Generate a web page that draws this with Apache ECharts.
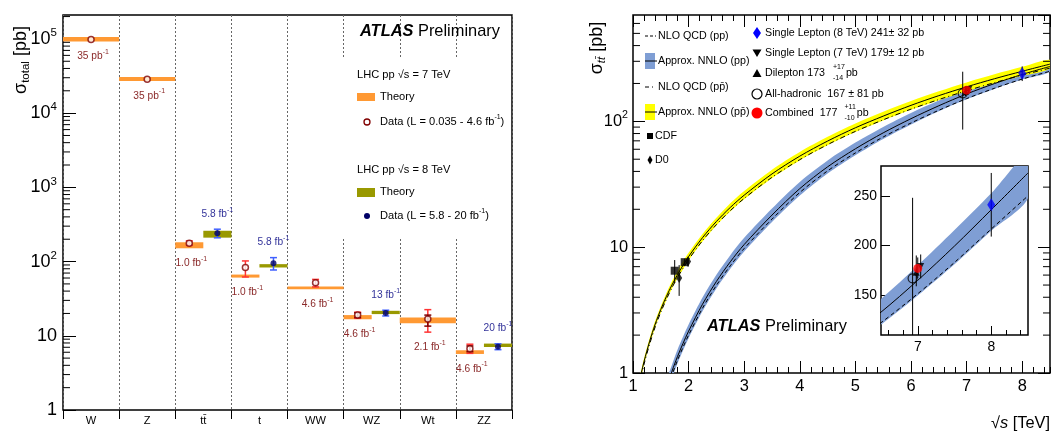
<!DOCTYPE html>
<html>
<head>
<meta charset="utf-8">
<title>ATLAS cross sections</title>
<script src="https://cdn.jsdelivr.net/npm/echarts@6.0.0/dist/echarts.min.js"></script>
<style>
html, body { margin: 0; padding: 0; background: #fff; }
#main { width: 1052px; height: 435px; }
</style>
</head>
<body>
<div id="main"></div>
<script>
// left panel: total cross sections [pb], 7 TeV and 8 TeV
var cats = ['W', 'Z', 'tt\u0304', 't', 'WW', 'WZ', 'Wt', 'ZZ'];
var th7Lo = [92000, 27100, 151, 60.8, 42.2, 16.7, 14.7, 5.69];
var th7Hi = [106000, 30700, 182, 66.8, 46.2, 19.0, 17.7, 6.38];
var th8Lo = [null, null, 210, 83.2, null, 19.6, null, 7.06];
var th8Hi = [null, null, 260, 92.3, null, 21.7, null, 7.85];
var meas7 = [98000, 28500, 177, 83, 51.9, 19.0, 16.8, 6.7];
var tot7Lo = [95000, 27700, 165, 62, 45.5, 17.2, 11.2, 5.8];
var tot7Hi = [101000, 29300, 190, 102, 57.5, 20.8, 22.5, 7.7];
var stat7Lo = [97500, 28300, 174, 79, 49.9, 17.6, 13.5, 6.1];
var stat7Hi = [98500, 28700, 180, 87, 53.9, 20.4, 19.0, 7.3];
var meas8 = [null, null, 241, 95, null, 20.3, null, 7.1];
var tot8Lo = [null, null, 209, 77, null, 18.5, null, 6.5];
var tot8Hi = [null, null, 273, 113, null, 22.1, null, 7.8];
var stat8Lo = [null, null, 238, 93, null, 19.6, null, 6.8];
var stat8Hi = [null, null, 244, 97, null, 21.0, null, 7.5];
var lumi7 = ['35 pb', '35 pb', '1.0 fb', '1.0 fb', '4.6 fb', '4.6 fb', '2.1 fb', '4.6 fb'];
var lumi8 = [null, null, '5.8 fb', '5.8 fb', null, '13 fb', null, '20 fb'];

// right panel: ttbar cross section vs sqrt(s) [TeV]
var ppE = [1.6, 1.7, 1.8, 1.9, 2.0, 2.25, 2.5, 2.75, 3, 3.5, 4, 4.5, 5, 5.5, 6, 6.5, 7, 7.5, 8, 8.5];
var ppNNLO = [0.76, 1.03, 1.35, 1.72, 2.15, 3.52, 5.34, 7.65, 10.5, 18.0, 29.2, 43.5, 60.5, 81, 105, 133, 165, 199.5, 236, 273];
var ppHi = [0.86, 1.16, 1.53, 1.94, 2.43, 3.98, 6.03, 8.64, 11.87, 20.3, 33.0, 48.9, 67.8, 90.3, 116.6, 146.3, 179.9, 215.5, 252.5, 292];
var ppLo = [0.67, 0.906, 1.19, 1.51, 1.89, 3.10, 4.70, 6.73, 9.24, 15.84, 25.7, 38.5, 53.8, 72.5, 94.5, 120.4, 149.7, 181.1, 214.8, 247.6];
var ppNLO = [0.71, 0.96, 1.26, 1.6, 2.0, 3.27, 4.97, 7.11, 9.77, 16.7, 27.2, 40.4, 56.1, 75.1, 97.0, 122.4, 151.5, 183, 216.6, 250];

var ppbarE = [1.1, 1.15, 1.2, 1.3, 1.4, 1.5, 1.6, 1.7, 1.8, 1.9, 2.0, 2.25, 2.5, 2.75, 3, 3.5, 4, 4.5, 5, 5.5, 6, 6.5, 7, 7.5, 8, 8.5];
var ppbarNNLO = [0.79, 1.0, 1.24, 1.79, 2.45, 3.2, 4.05, 5.0, 6.04, 7.18, 8.42, 11.9, 16.0, 20.7, 25.9, 38.2, 52.9, 69.7, 88.9, 110, 134, 160, 188, 218, 250, 285];
var ppbarHi = [0.837, 1.06, 1.314, 1.897, 2.597, 3.392, 4.31, 5.33, 6.43, 7.68, 9.01, 12.73, 17.1, 22.3, 27.97, 41.3, 57.1, 75.3, 96.2, 119.4, 145.4, 173.6, 204, 236.5, 271, 309];
var ppbarLo = [0.743, 0.94, 1.166, 1.683, 2.303, 3.008, 3.79, 4.68, 5.65, 6.68, 7.83, 11.07, 14.9, 19.2, 24.0, 35.3, 48.9, 64.5, 82.1, 101.4, 123.5, 147.2, 173, 200.6, 230, 262.2];
var ppbarNLO = [0.75, 0.95, 1.18, 1.70, 2.33, 3.04, 3.85, 4.75, 5.74, 6.8, 7.97, 11.26, 15.1, 19.5, 24.4, 35.9, 49.6, 65.3, 83.2, 102.8, 125, 149, 175, 203, 233, 265];

var cdfE = [1.75, 1.93], cdfXs = [6.5, 7.6], cdfLo = [5.2, 7.1], cdfHi = [7.9, 8.1];
var d0E = [1.83, 1.99], d0Xs = [5.7, 7.7], d0Lo = [4.1, 7.0], d0Hi = [7.2, 8.4];
// single lepton 8, single lepton 7, dilepton, all-hadronic, combined
var atlasE = [8.0, 7.04, 6.98, 6.93, 7.0];
var atlasXs = [241, 179, 173, 167, 177];
var atlasLo = [209, 167, 159, 86, 167];
var atlasHi = [273, 191, 190, 248, 188];

var logDecL = [1, 10, 100, 1000, 10000, 100000];
var logDecR = [1, 10, 100];
var mant = [2, 3, 4, 5, 6, 7, 8, 9];
var insetMajor = [7, 8];
var insetMinor = [6.6, 6.8, 7.2, 7.4, 7.6, 7.8, 8.2, 8.4];
var insetY = [150, 200, 250];

// fonts: narrow helvetica-like if there is one
function hasFont(name) {
  var c = document.createElement('canvas').getContext('2d');
  c.font = '40px monospace';
  var w0 = c.measureText('LHC pp Theory 0123').width;
  c.font = "40px '" + name + "', monospace";
  return c.measureText('LHC pp Theory 0123').width !== w0;
}
var NARROW = hasFont('Liberation Sans Narrow');
var FF = NARROW ? 'Liberation Sans Narrow' : 'Liberation Sans';
function F(px) { return NARROW ? px : Math.round(px * 8.2) / 10; }
var mctx = document.createElement('canvas').getContext('2d');
function tw(txt, px) { mctx.font = F(px) + "px '" + FF + "'"; return mctx.measureText(txt).width; }

var ORANGE = '#ff9933', OLIVE = '#999900';
var RED7 = '#ff3333', DARK7 = '#800000', LAB7 = '#8b2a2a';
var BLUE8 = '#4060ff', DARK8 = '#000066', LAB8 = '#33339a';
var BAND_PP = '#7f9ed4', BAND_PPBAR = '#ffff00';
var SMOOTH = 0.3;

function zip(a, b) { return a.map(function (v, i) { return [v, b[i]]; }); }
function R(px, extra) { return Object.assign({ fontSize: F(px), fontFamily: FF }, extra || {}); }
function clipOf(params) {
  var cs = params.coordSys;
  return { type: 'rect', shape: { x: cs.x, y: cs.y, width: cs.width, height: cs.height } };
}
function xs7(i) { return th8Lo[i] != null ? i + 0.25 : i + 0.5; }
function xs8(i) { return i + 0.75; }

var catItems = cats.map(function (c, i) { return [i, 1]; });

function theoryItem(params, api) {
  var i = api.value(0);
  var half = th8Lo[i] != null;
  var a = api.coord([i, th7Hi[i]]), b = api.coord([half ? i + 0.5 : i + 1, th7Lo[i]]);
  var kids = [{ type: 'rect', shape: { x: a[0], y: a[1], width: b[0] - a[0], height: b[1] - a[1] }, style: { fill: ORANGE } }];
  if (half) {
    var c = api.coord([i + 0.5, th8Hi[i]]), d = api.coord([i + 1, th8Lo[i]]);
    kids.push({ type: 'rect', shape: { x: c[0], y: c[1], width: d[0] - c[0], height: d[1] - c[1] }, style: { fill: OLIVE } });
  }
  return { type: 'group', children: kids };
}

function errRender(xf, lo, hi, slo, shi, cOut, cIn) {
  return function (params, api) {
    var i = api.value(0);
    if (lo[i] == null) return;
    var x = xf(i), kids = [];
    function bar(l, h, col) {
      var p = api.coord([x, h]), q = api.coord([x, l]);
      if (q[1] - p[1] < 4) return;
      var st = { stroke: col, lineWidth: 1.5 };
      kids.push({ type: 'line', shape: { x1: p[0], y1: p[1], x2: q[0], y2: q[1] }, style: st });
      kids.push({ type: 'line', shape: { x1: p[0] - 3.5, y1: p[1], x2: p[0] + 3.5, y2: p[1] }, style: st });
      kids.push({ type: 'line', shape: { x1: q[0] - 3.5, y1: q[1], x2: q[0] + 3.5, y2: q[1] }, style: st });
    }
    bar(lo[i], hi[i], cOut);
    bar(slo[i], shi[i], cIn);
    return { type: 'group', children: kids };
  };
}

function lumiRich(col) {
  return { n: R(12.5, { fill: col }), s: R(8.5, { fill: col, padding: [0, 0, 9, 0] }) };
}
function lumiItem(params, api) {
  var i = api.value(0), kids = [];
  var p = api.coord([xs7(i), Math.min(th7Lo[i], tot7Lo[i])]);
  kids.push({ type: 'text', x: p[0] + 2, y: p[1] + 15, style: { text: '{n|' + lumi7[i] + '}{s|-1}', rich: lumiRich(LAB7), fill: LAB7, align: 'center', verticalAlign: 'middle' } });
  if (lumi8[i] != null) {
    var q = api.coord([xs8(i), Math.max(th8Hi[i], tot8Hi[i])]);
    kids.push({ type: 'text', x: q[0], y: q[1] - 15, style: { text: '{n|' + lumi8[i] + '}{s|-1}', rich: lumiRich(LAB8), fill: LAB8, align: 'center', verticalAlign: 'middle' } });
  }
  return { type: 'group', children: kids };
}

function minorVals(decs, top) {
  var out = [];
  decs.forEach(function (d) { mant.forEach(function (m) { if (d * m < top) out.push([0, d * m]); }); });
  return out;
}
function minorRender(xl, xr, len) {
  return function (params, api) {
    var v = api.value(1), kids = [];
    var p = api.coord([xl, v]);
    kids.push({ type: 'line', shape: { x1: p[0], y1: p[1], x2: p[0] + len, y2: p[1] }, style: { stroke: '#000', lineWidth: 1 } });
    if (xr != null) {
      var q = api.coord([xr, v]);
      kids.push({ type: 'line', shape: { x1: q[0], y1: q[1], x2: q[0] - len, y2: q[1] }, style: { stroke: '#000', lineWidth: 1 } });
    }
    return { type: 'group', children: kids };
  };
}

function bandSeries(xi, yi, E, lo, hi, color) {
  return {
    type: 'custom', xAxisIndex: xi, yAxisIndex: yi, silent: true, z: 2,
    data: [[E[E.length - 1], hi[hi.length - 1]]],
    renderItem: function (params, api) {
      var up = [], dn = [], k;
      for (k = 0; k < E.length; k++) { up.push(api.coord([E[k], hi[k]])); dn.push(api.coord([E[k], lo[k]])); }
      return {
        type: 'group', clipPath: clipOf(params),
        children: [{ type: 'polygon', shape: { points: up.concat(dn.slice().reverse()), smooth: SMOOTH }, style: { fill: color } }]
      };
    }
  };
}
function curve(xi, yi, E, vals, dash) {
  return {
    type: 'line', xAxisIndex: xi, yAxisIndex: yi, data: zip(E, vals), symbol: 'none', silent: true, clip: true, z: 3,
    smooth: SMOOTH, lineStyle: { color: '#000', width: 1, type: dash || 'solid' }
  };
}
function vErr(xi, yi, E, lo, hi) {
  return {
    type: 'custom', xAxisIndex: xi, yAxisIndex: yi, silent: true, z: 4,
    data: E.map(function (e, i) { return [e, lo[i], hi[i]]; }),
    renderItem: function (params, api) {
      var p = api.coord([api.value(0), api.value(2)]), q = api.coord([api.value(0), api.value(1)]);
      return { type: 'line', shape: { x1: p[0], y1: p[1], x2: q[0], y2: q[1] }, style: { stroke: '#000', lineWidth: 1 }, clipPath: clipOf(params) };
    }
  };
}
function marker(xi, yi, data, symbol, size, color, extra) {
  return Object.assign({
    type: 'scatter', xAxisIndex: xi, yAxisIndex: yi, data: data, symbol: symbol, symbolSize: size, silent: true, z: 5,
    itemStyle: { color: color }
  }, extra || {});
}
function atlasMarkers(xi, yi) {
  var pt = function (k) { return [[atlasE[k], atlasXs[k]]]; };
  return [
    vErr(xi, yi, atlasE, atlasLo, atlasHi),
    marker(xi, yi, pt(2), 'triangle', 7, '#000'),
    marker(xi, yi, pt(1), 'triangle', 7, '#000', { symbolRotate: 180 }),
    marker(xi, yi, pt(3), 'circle', 9, 'rgba(0,0,0,0)', { itemStyle: { color: 'rgba(0,0,0,0)', borderColor: '#000', borderWidth: 1.2 } }),
    marker(xi, yi, pt(4), 'circle', 9, '#ff0000'),
    marker(xi, yi, pt(0), 'diamond', [8, 13], '#0000ff')
  ];
}

function logFmt(v) {
  var e = Math.round(Math.log10(v));
  if (e === 0) return '1';
  if (e === 1) return '10';
  return '{n|10}{s|' + e + '}';
}
function logRich(px) { return { n: R(px, { color: '#000' }), s: R(Math.round(px * 0.64), { color: '#000', padding: [0, 0, 12, 0] }) }; }

var noLine = { show: false }, noSplit = { show: false };
var tickIn = function (len) { return { show: true, inside: true, length: len, lineStyle: { color: '#000', width: 1 } }; };

var xAxes = [
  { gridIndex: 0, type: 'value', min: 0, max: 8, interval: 1, axisLine: noLine, axisLabel: { show: false },
    axisTick: { show: true, inside: false, length: 9, lineStyle: { color: '#000' } },
    splitLine: { show: true, lineStyle: { type: [2, 2], color: '#666', width: 1 } } },
  { gridIndex: 0, type: 'category', data: cats, position: 'bottom', boundaryGap: true, axisLine: noLine, axisTick: { show: false },
    axisLabel: { fontSize: F(13.5), fontFamily: FF, color: '#000', margin: 5 }, splitLine: noSplit },
  { gridIndex: 1, type: 'value', min: 1, max: 8.5, interval: 1, position: 'bottom', axisLine: noLine, axisTick: tickIn(12),
    axisLabel: { fontSize: F(20), fontFamily: FF, color: '#000', margin: 5, showMaxLabel: false }, splitLine: noSplit },
  { gridIndex: 1, type: 'value', min: 1, max: 8.5, interval: 0.2, position: 'bottom', axisLine: noLine, axisTick: tickIn(6),
    axisLabel: { show: false }, splitLine: noSplit },
  { gridIndex: 1, type: 'value', min: 1, max: 8.5, interval: 1, position: 'top', axisLine: noLine, axisTick: tickIn(12),
    axisLabel: { show: false }, splitLine: noSplit },
  { gridIndex: 1, type: 'value', min: 1, max: 8.5, interval: 0.2, position: 'top', axisLine: noLine, axisTick: tickIn(6),
    axisLabel: { show: false }, splitLine: noSplit },
  { gridIndex: 2, type: 'value', min: 6.5, max: 8.5, position: 'bottom', axisLine: noLine,
    axisTick: Object.assign(tickIn(9), { customValues: insetMajor }),
    axisLabel: { customValues: insetMajor, fontSize: F(17), fontFamily: FF, color: '#000', margin: 5 }, splitLine: noSplit },
  { gridIndex: 2, type: 'value', min: 6.5, max: 8.5, position: 'bottom', axisLine: noLine,
    axisTick: Object.assign(tickIn(5), { customValues: insetMinor }), axisLabel: { show: false }, splitLine: noSplit }
];
var yAxes = [
  { gridIndex: 0, type: 'log', logBase: 10, min: 1, max: 210000, splitNumber: 6, axisLine: noLine, axisTick: tickIn(13),
    axisLabel: { formatter: logFmt, rich: logRich(22), fontSize: F(22), fontFamily: FF, color: '#000', margin: 6, showMaxLabel: false },
    splitLine: noSplit },
  { gridIndex: 1, type: 'log', logBase: 10, min: 1, max: 700, splitNumber: 3, axisLine: noLine, axisTick: tickIn(12),
    axisLabel: { formatter: logFmt, rich: logRich(20), fontSize: F(20), fontFamily: FF, color: '#000', margin: 5, showMaxLabel: false },
    splitLine: noSplit },
  { gridIndex: 1, type: 'log', logBase: 10, min: 1, max: 700, splitNumber: 3, position: 'right', axisLine: noLine, axisTick: tickIn(12),
    axisLabel: { show: false }, splitLine: noSplit },
  { gridIndex: 2, type: 'value', min: 110, max: 280, axisLine: noLine,
    axisTick: Object.assign(tickIn(9), { customValues: insetY }),
    axisLabel: { customValues: insetY, fontSize: F(17), fontFamily: FF, color: '#000', margin: 4 }, splitLine: noSplit }
];

var series = [
  // left
  { type: 'custom', xAxisIndex: 0, yAxisIndex: 0, data: catItems, renderItem: theoryItem, silent: true, z: 2 },
  { type: 'custom', xAxisIndex: 0, yAxisIndex: 0, data: catItems, silent: true, z: 3,
    renderItem: errRender(xs7, tot7Lo, tot7Hi, stat7Lo, stat7Hi, RED7, DARK7) },
  marker(0, 0, cats.map(function (c, i) { return [xs7(i), meas7[i]]; }), 'circle', 6, '#fff',
    { itemStyle: { color: '#fff', borderColor: DARK7, borderWidth: 1.5 } }),
  { type: 'custom', xAxisIndex: 0, yAxisIndex: 0, data: catItems, silent: true, z: 3,
    renderItem: errRender(xs8, tot8Lo, tot8Hi, stat8Lo, stat8Hi, BLUE8, DARK8) },
  marker(0, 0, cats.map(function (c, i) { return [xs8(i), meas8[i]]; }).filter(function (d) { return d[1] != null; }), 'circle', 6, DARK8),
  { type: 'custom', xAxisIndex: 0, yAxisIndex: 0, data: catItems, renderItem: lumiItem, silent: true, z: 6 },
  { type: 'custom', xAxisIndex: 0, yAxisIndex: 0, data: minorVals(logDecL, 210000), renderItem: minorRender(0, null, 7), silent: true, z: 6 },
  // right
  bandSeries(2, 1, ppE, ppLo, ppHi, BAND_PP),
  bandSeries(2, 1, ppbarE, ppbarLo, ppbarHi, BAND_PPBAR),
  curve(2, 1, ppE, ppNLO, [4, 3]),
  curve(2, 1, ppE, ppNNLO),
  curve(2, 1, ppbarE, ppbarNLO, [5, 3, 1, 3]),
  curve(2, 1, ppbarE, ppbarNNLO),
  vErr(2, 1, cdfE, cdfLo, cdfHi),
  vErr(2, 1, d0E, d0Lo, d0Hi),
  marker(2, 1, zip(cdfE, cdfXs), 'rect', 8, '#000'),
  marker(2, 1, zip(d0E, d0Xs), 'diamond', [6, 10], '#000'),
  { type: 'custom', xAxisIndex: 2, yAxisIndex: 1, data: minorVals(logDecR, 700), renderItem: minorRender(1, 8.5, 7), silent: true, z: 6 },
  // inset
  bandSeries(6, 3, ppE, ppLo, ppHi, BAND_PP),
  curve(6, 3, ppE, ppNLO, [4, 3]),
  curve(6, 3, ppE, ppNNLO)
].concat(atlasMarkers(2, 1)).concat(atlasMarkers(6, 3));

// legends and titles
function gtext(x, y, txt, px, opt) {
  opt = opt || {};
  return { type: 'text', x: x, y: y, z: 60, rotation: opt.rot || 0, silent: true,
    style: { text: txt, fontSize: F(px), fontFamily: FF, fontStyle: opt.fstyle || 'normal', fontWeight: opt.weight || 'normal',
      fill: opt.color || '#000', align: opt.align || 'left', verticalAlign: 'middle', rich: opt.rich } };
}
var supRich = { n: R(13.5), s: R(8.5, { padding: [0, 0, 9, 0] }) };
var atlasRich = { b: R(20, { fontWeight: 'bold', fontStyle: 'italic' }), n: R(20) };
var g = [];
g.push({ type: 'rect', z: 50, silent: true, shape: { x: 341, y: 58, width: 169, height: 181 }, style: { fill: '#fff' } });
g.push(gtext(360, 31, '{b|ATLAS}{n| Preliminary}', 20, { rich: atlasRich }));
g.push(gtext(357, 75, 'LHC pp \u221as = 7 TeV', 13.5));
g.push({ type: 'rect', z: 60, silent: true, shape: { x: 357, y: 93, width: 18, height: 8 }, style: { fill: ORANGE } });
g.push(gtext(380, 97, 'Theory', 13.5));
g.push({ type: 'circle', z: 60, silent: true, shape: { cx: 367, cy: 122, r: 3 }, style: { fill: '#fff', stroke: DARK7, lineWidth: 1.3 } });
g.push(gtext(380, 122, '{n|Data (L = 0.035 - 4.6 fb}{s|-1}{n|)}', 13.5, { rich: supRich }));
g.push(gtext(357, 170, 'LHC pp \u221as = 8 TeV', 13.5));
g.push({ type: 'rect', z: 60, silent: true, shape: { x: 357, y: 188, width: 18, height: 9 }, style: { fill: OLIVE } });
g.push(gtext(380, 192, 'Theory', 13.5));
g.push({ type: 'circle', z: 60, silent: true, shape: { cx: 367, cy: 216, r: 3 }, style: { fill: DARK8 } });
g.push(gtext(380, 216, '{n|Data (L = 5.8 - 20 fb}{s|-1}{n|)}', 13.5, { rich: supRich }));
g.push(gtext(21, 60, '{a|\u03c3}{b|total}{a| [pb]}', 20, { rot: Math.PI / 2, align: 'center',
  rich: { a: R(22), b: R(14, { padding: [9, 0, 0, 0] }) } }));

// right legend
g.push({ type: 'line', z: 60, silent: true, shape: { x1: 645, y1: 36, x2: 656, y2: 36 }, style: { stroke: '#000', lineWidth: 1, lineDash: [3, 2] } });
g.push(gtext(658, 36, 'NLO QCD (pp)', 13));
g.push({ type: 'rect', z: 60, silent: true, shape: { x: 645, y: 53, width: 10, height: 16 }, style: { fill: BAND_PP } });
g.push({ type: 'line', z: 61, silent: true, shape: { x1: 645, y1: 61, x2: 657, y2: 61 }, style: { stroke: '#000', lineWidth: 1 } });
g.push(gtext(658, 61, 'Approx. NNLO (pp)', 13));
g.push({ type: 'line', z: 60, silent: true, shape: { x1: 645, y1: 87, x2: 656, y2: 87 }, style: { stroke: '#000', lineWidth: 1, lineDash: [4, 3, 1, 3] } });
g.push(gtext(658, 87, 'NLO QCD (pp\u0304)', 13));
g.push({ type: 'rect', z: 60, silent: true, shape: { x: 645, y: 104, width: 10, height: 16 }, style: { fill: BAND_PPBAR } });
g.push({ type: 'line', z: 61, silent: true, shape: { x1: 645, y1: 112, x2: 657, y2: 112 }, style: { stroke: '#000', lineWidth: 1 } });
g.push(gtext(658, 112, 'Approx. NNLO (pp\u0304)', 13));
g.push({ type: 'rect', z: 60, silent: true, shape: { x: 647, y: 133, width: 6, height: 6 }, style: { fill: '#000' } });
g.push(gtext(655, 136, 'CDF', 13));
g.push({ type: 'polygon', z: 60, silent: true, shape: { points: [[650, 155.5], [652.5, 160], [650, 164.5], [647.5, 160]] }, style: { fill: '#000' } });
g.push(gtext(655, 160, 'D0', 13));

g.push({ type: 'polygon', z: 60, silent: true, shape: { points: [[757, 27], [761, 33], [757, 39], [753, 33]] }, style: { fill: '#0000ff' } });
g.push(gtext(765, 33, 'Single Lepton (8 TeV) 241\u00b1 32 pb', 13));
g.push({ type: 'polygon', z: 60, silent: true, shape: { points: [[752.5, 49.5], [761.5, 49.5], [757, 57]] }, style: { fill: '#000' } });
g.push(gtext(765, 53, 'Single Lepton (7 TeV) 179\u00b1 12 pb', 13));
g.push({ type: 'polygon', z: 60, silent: true, shape: { points: [[757, 69], [761.5, 77], [752.5, 77]] }, style: { fill: '#000' } });
var wDi = tw('Dilepton 173', 13);
g.push(gtext(765, 73, 'Dilepton 173', 13));
g.push(gtext(765 + wDi + 8, 67.5, '+17', 8.5));
g.push(gtext(765 + wDi + 8, 78, '-14', 8.5));
g.push(gtext(765 + wDi + 9 + tw('+17', 8.5), 73, 'pb', 13));
g.push({ type: 'circle', z: 60, silent: true, shape: { cx: 757, cy: 94, r: 5 }, style: { fill: 'none', stroke: '#000', lineWidth: 1.2 } });
g.push(gtext(765, 94, 'All-hadronic  167 \u00b1 81 pb', 13));
g.push({ type: 'circle', z: 60, silent: true, shape: { cx: 757, cy: 113, r: 5.5 }, style: { fill: '#ff0000' } });
var wCo = tw('Combined  177', 13);
g.push(gtext(765, 113, 'Combined  177', 13));
g.push(gtext(765 + wCo + 7, 107.5, '+11', 8.5));
g.push(gtext(765 + wCo + 7, 118, '-10', 8.5));
g.push(gtext(765 + wCo + 8 + tw('+11', 8.5), 113, 'pb', 13));

g.push(gtext(707, 326, '{b|ATLAS}{n| Preliminary}', 20, { rich: atlasRich }));
g.push(gtext(597, 48, '{a|\u03c3}{b|tt\u0304}{a| [pb]}', 20, { rot: Math.PI / 2, align: 'center',
  rich: { a: R(22), b: R(14, { fontStyle: 'italic', padding: [9, 0, 0, 0] }) } }));
g.push(gtext(1050, 423, '{a|\u221a}{i|s}{a| [TeV]}', 19, { align: 'right',
  rich: { a: R(20), i: R(20, { fontStyle: 'italic' }) } }));

var chart = echarts.init(document.getElementById('main'));
chart.setOption({
  animation: false,
  backgroundColor: '#fff',
  grid: [
    { left: 63, top: 15, width: 449, height: 395, show: true, borderColor: '#000', borderWidth: 1.5, backgroundColor: 'rgba(0,0,0,0)' },
    { left: 633, top: 15, width: 417, height: 358, show: true, borderColor: '#000', borderWidth: 1.5, backgroundColor: 'rgba(0,0,0,0)' },
    { left: 881, top: 166, width: 147, height: 169, show: true, borderColor: '#000', borderWidth: 1.5, backgroundColor: '#fff' }
  ],
  xAxis: xAxes,
  yAxis: yAxes,
  series: series,
  graphic: g
});
</script>
</body>
</html>
